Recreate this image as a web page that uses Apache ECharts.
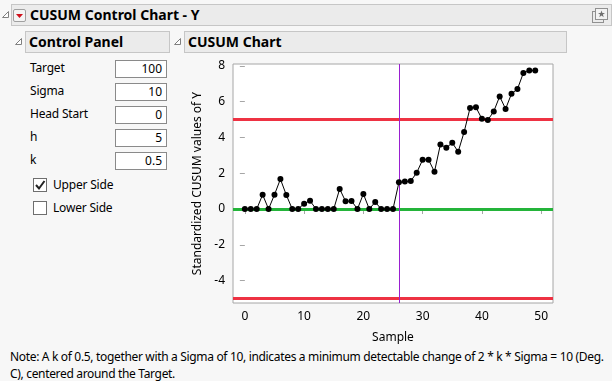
<!DOCTYPE html>
<html><head><meta charset="utf-8">
<script src="https://cdn.jsdelivr.net/npm/echarts@6/dist/echarts.min.js"></script>
<style>
html,body{margin:0;padding:0;width:612px;height:381px;background:#f7f7f7;overflow:hidden;font-family:"Noto Sans","Open Sans",sans-serif;color:#000}
.abs{position:absolute}
.bar{background:#ebebeb;border:1px solid #c6c6c6;box-sizing:border-box;font-weight:bold;font-size:14px;line-height:19px;white-space:nowrap}
.lbl{font-size:12px;line-height:16px;letter-spacing:-0.2px}
.inp{background:#fff;border:1px solid #8a8a8a;box-sizing:border-box;font-size:12px;line-height:16px;text-align:right;padding-right:4px}
.cb{background:#fff;border:1px solid #6e6e6e;box-sizing:border-box;width:14px;height:14px}
.note{font-size:12px;line-height:17px;white-space:nowrap;letter-spacing:-0.33px}
#chart{position:absolute;left:0;top:0;width:612px;height:381px}
</style></head><body>
<svg class="abs" style="left:1px;top:10px" width="9" height="9"><path d="M7.5 1.5 L7.5 7.5 L1.5 7.5 Z" fill="#fff" stroke="#808080" stroke-width="1"/></svg>
<div class="abs bar" style="left:11px;top:4px;width:601px;height:22px;padding-left:18px">CUSUM Control Chart - Y</div>
<svg class="abs" style="left:13px;top:9px" width="14" height="14"><rect x="0.5" y="0.5" width="12" height="12" rx="1.5" fill="#f4f4f4" stroke="#a0a0a0"/><path d="M3 5 L10 5 L6.5 9 Z" fill="#d0101c"/></svg>
<svg class="abs" style="left:592px;top:8px" width="17" height="15"><rect x="0.5" y="3.5" width="11" height="11" fill="none" stroke="#909090"/><rect x="3.5" y="0.5" width="12" height="11" fill="#f2f2f2" stroke="#909090"/><path d="M9.5 2.5 L10.4 5 L13 5 L10.9 6.6 L11.7 9.2 L9.5 7.6 L7.3 9.2 L8.1 6.6 L6 5 L8.6 5 Z" fill="#707070"/></svg>

<svg class="abs" style="left:14px;top:37px" width="9" height="9"><path d="M7.5 1.5 L7.5 7.5 L1.5 7.5 Z" fill="#fff" stroke="#808080" stroke-width="1"/></svg>
<div class="abs bar" style="left:25px;top:31px;width:145px;height:22px;padding-left:3px">Control Panel</div>
<svg class="abs" style="left:173px;top:37px" width="9" height="9"><path d="M7.5 1.5 L7.5 7.5 L1.5 7.5 Z" fill="#fff" stroke="#808080" stroke-width="1"/></svg>
<div class="abs bar" style="left:184px;top:31px;width:383px;height:22px;padding-left:3px">CUSUM Chart</div>

<div class="abs lbl" style="left:30px;top:60px">Target</div>
<div class="abs inp" style="left:115px;top:60px;width:52px;height:18px">100</div>
<div class="abs lbl" style="left:30px;top:83px">Sigma</div>
<div class="abs inp" style="left:115px;top:83px;width:52px;height:18px">10</div>
<div class="abs lbl" style="left:30px;top:106px">Head Start</div>
<div class="abs inp" style="left:115px;top:106px;width:52px;height:18px">0</div>
<div class="abs lbl" style="left:30px;top:129px">h</div>
<div class="abs inp" style="left:115px;top:129px;width:52px;height:18px">5</div>
<div class="abs lbl" style="left:30px;top:152px">k</div>
<div class="abs inp" style="left:115px;top:152px;width:52px;height:18px">0.5</div>
<div class="abs cb" style="left:33px;top:178px"></div>
<svg class="abs" style="left:33px;top:178px" width="14" height="14"><path d="M3 7 L6 10.5 L11.5 3" fill="none" stroke="#222" stroke-width="2"/></svg>
<div class="abs lbl" style="left:53px;top:177px">Upper Side</div>
<div class="abs cb" style="left:33px;top:201px"></div>
<div class="abs lbl" style="left:53px;top:200px">Lower Side</div>

<div class="abs note" style="left:10px;top:348px">Note: A k of 0.5, together with a Sigma of 10, indicates a minimum detectable change of 2 * k * Sigma = 10 (Deg.<br>C), centered around the Target.</div>

<div id="chart"></div>
<script>
const samples = [0,1,2,3,4,5,6,7,8,9,10,11,12,13,14,15,16,17,18,19,20,21,22,23,24,25,26,27,28,29,30,31,32,33,34,35,36,37,38,39,40,41,42,43,44,45,46,47,48,49];
const cusumValues = [0,0,0,0.80,0,0.80,1.67,0.78,0,0,0.30,0.46,0,0,0,0,1.12,0.43,0.45,0,0.84,0,0.39,0,0,0,1.49,1.53,1.56,2.03,2.75,2.75,2.08,3.61,3.42,3.70,3.20,4.30,5.64,5.68,5.04,4.97,5.45,6.29,5.59,6.44,6.70,7.60,7.73,7.73];
const xTicks = [0,10,20,30,40,50];
const yTicks = [-4,-2,0,2,4,6,8];
const upperLimit = 5, lowerLimit = -5, centerLine = 0, changePoint = 26;

const chart = echarts.init(document.getElementById('chart'), null, {renderer:'canvas'});
const axisFont = {fontFamily:'Noto Sans', fontSize:12, color:'#000'};
chart.setOption({
  backgroundColor:'transparent',
  animation:false,
  grid:{left:233, right:59, top:64, bottom:78, show:true, backgroundColor:'#fff', borderColor:'#a6a6a6', borderWidth:1},
  xAxis:{type:'value', min:-2, max:52, name:'Sample', nameLocation:'middle', nameGap:29,
    nameTextStyle:axisFont,
    axisLine:{show:false}, splitLine:{show:false},
    axisTick:{show:true, length:5, lineStyle:{color:'#a6a6a6'}, customValues:xTicks},
    axisLabel:Object.assign({customValues:xTicks, margin:8}, axisFont)},
  yAxis:{type:'value', min:-5.25, max:8.1, name:'Standardized CUSUM values of Y', nameLocation:'middle', nameGap:26,
    nameTextStyle:axisFont,
    axisLine:{show:false}, splitLine:{show:false},
    axisTick:{show:true, length:5, lineStyle:{color:'#a6a6a6'}, customValues:yTicks},
    axisLabel:Object.assign({customValues:yTicks, margin:8}, axisFont)},
  series:[
    {type:'line', data:[], silent:true, z:1,
     markLine:{symbol:'none', silent:true, label:{show:false},
       data:[
         {yAxis:upperLimit, lineStyle:{color:'#ee3243', width:3, type:'solid'}},
         {yAxis:lowerLimit, lineStyle:{color:'#ee3243', width:3, type:'solid'}},
         {yAxis:centerLine, lineStyle:{color:'#24b43a', width:3, type:'solid'}}
       ]}},
    {type:'line', data:samples.map((s,i)=>[s,cusumValues[i]]), z:5,
     symbol:'circle', symbolSize:6, itemStyle:{color:'#000'}, lineStyle:{color:'#000', width:1}},
    {type:'line', data:[], silent:true, z:6,
     markLine:{symbol:'none', silent:true, label:{show:false},
       data:[{xAxis:changePoint, lineStyle:{color:'#9a1fd0', width:1, type:'solid'}}]}}
  ]
});
</script>
</body></html>
